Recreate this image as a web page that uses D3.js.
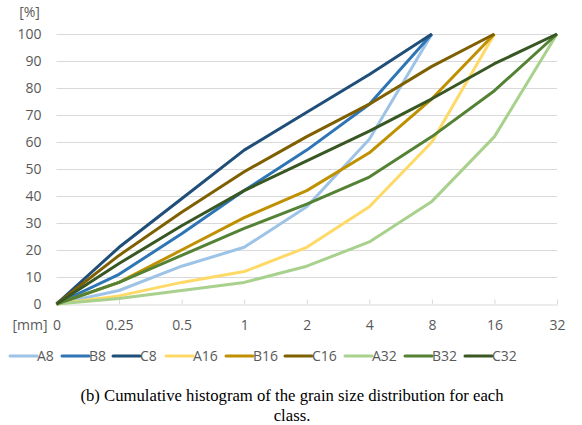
<!DOCTYPE html>
<html>
<head>
<meta charset="utf-8">
<script src="https://cdn.jsdelivr.net/npm/d3@7"></script>
<style>
    body { margin: 0; background: #fff; }
    .tick text { font-family: "Open Sans", sans-serif; font-size: 14px; fill: #595959; }
</style>
</head>
<body>
<div id="chart"></div>
<script>
// grain size classes on the x axis [mm]
const sizes = ["0", "0.25", "0.5", "1", "2", "4", "8", "16", "32"];
const yTicks = [0, 10, 20, 30, 40, 50, 60, 70, 80, 90, 100];

// cumulative share [%] per sieve size
const seriesNames = ["A8", "B8", "C8", "A16", "B16", "C16", "A32", "B32", "C32"];
const seriesColors = ["#9dc3e6", "#2e75b6", "#1f4e79", "#ffd966", "#bf9000", "#7f6000", "#a9d18e", "#548235", "#385723"];
const A8 = [0, 5, 14, 21, 36, 61, 100];
const B8 = [0, 11, 26, 42, 57, 74, 100];
const C8 = [0, 21, 39, 57, 71, 85, 100];
const A16 = [0, 3, 8, 12, 21, 36, 60, 100];
const B16 = [0, 8, 20, 32, 42, 56, 76, 100];
const C16 = [0, 18, 34, 49, 62, 74, 88, 100];
const A32 = [0, 2, 5, 8, 14, 23, 38, 62, 100];
const B32 = [0, 8, 18, 28, 37, 47, 62, 79, 100];
const C32 = [0, 15, 29, 42, 53, 64, 76, 89, 100];
const seriesValues = [A8, B8, C8, A16, B16, C16, A32, B32, C32];

const width = 582, height = 425;
const svg = d3.select("#chart")
    .append("svg")
    .attr("width", width)
    .attr("height", height);

const x = d3.scalePoint().domain(sizes).range([56.5, 557]);
const y = d3.scaleLinear().domain([0, 100]).range([304, 34]);

// horizontal gridlines
svg.append("g")
    .selectAll("line")
    .data(yTicks.filter(d => d > 0))
    .join("line")
    .attr("x1", x.range()[0])
    .attr("x2", x.range()[1])
    .attr("y1", d => Math.round(y(d)) + 0.5)
    .attr("y2", d => Math.round(y(d)) + 0.5)
    .attr("stroke", "#d9d9d9")
    .attr("stroke-width", 1);

// y axis labels
const yAxis = svg.append("g")
    .attr("transform", `translate(${x.range()[0]},0)`)
    .call(d3.axisLeft(y).tickValues(yTicks).tickSize(0).tickPadding(15));
yAxis.select(".domain").remove();

// x axis with inward ticks
const xAxis = svg.append("g")
    .attr("transform", `translate(0,${Math.round(y(0)) + 0.5})`)
    .call(d3.axisBottom(x).tickSizeInner(-5).tickSizeOuter(0));
xAxis.select(".domain").attr("stroke", "#d9d9d9");
xAxis.selectAll(".tick line").attr("stroke", "#d9d9d9");
xAxis.selectAll(".tick text").attr("y", 21).attr("dy", "0.35em");

// axis unit labels
svg.append("text")
    .attr("x", 29.5).attr("y", 12).attr("dy", "0.35em")
    .attr("text-anchor", "middle")
    .style("font-family", "Open Sans, sans-serif").style("font-size", "14px")
    .attr("fill", "#595959")
    .text("[%]");
svg.append("text")
    .attr("x", 30).attr("y", 325).attr("dy", "0.35em")
    .attr("text-anchor", "middle")
    .style("font-family", "Open Sans, sans-serif").style("font-size", "14px")
    .attr("fill", "#595959")
    .text("[mm]");

// lines
const line = d3.line()
    .x((d, i) => x(sizes[i]))
    .y(d => y(d));
svg.append("g")
    .selectAll("path")
    .data(seriesValues)
    .join("path")
    .attr("d", d => line(d))
    .attr("fill", "none")
    .attr("stroke", (d, i) => seriesColors[i])
    .attr("stroke-width", 3)
    .attr("stroke-linejoin", "round");

// legend
const legend = svg.append("g").attr("transform", "translate(10,356)");
const legendItems = legend.selectAll("g")
    .data(seriesNames)
    .join("g")
    .attr("transform", (d, i) => `translate(${[0, 52, 103, 156, 216, 275, 335, 395, 455][i]},0)`);
legendItems.append("line")
    .attr("x1", 0).attr("x2", 27)
    .attr("stroke", (d, i) => seriesColors[i])
    .attr("stroke-width", 3)
    .attr("stroke-linecap", "round");
legendItems.append("text")
    .attr("x", 27).attr("dy", "0.35em")
    .style("font-family", "Open Sans, sans-serif").style("font-size", "14px")
    .attr("fill", "#595959")
    .text(d => d);

// caption
const caption = svg.append("text")
    .attr("text-anchor", "middle")
    .style("font-family", "Liberation Serif, Times New Roman, serif")
    .style("font-size", "16.7px")
    .attr("fill", "#000");
caption.append("tspan").attr("x", 292).attr("y", 401)
    .text("(b) Cumulative histogram of the grain size distribution for each");
caption.append("tspan").attr("x", 292).attr("y", 421)
    .text("class.");
</script>
</body>
</html>
